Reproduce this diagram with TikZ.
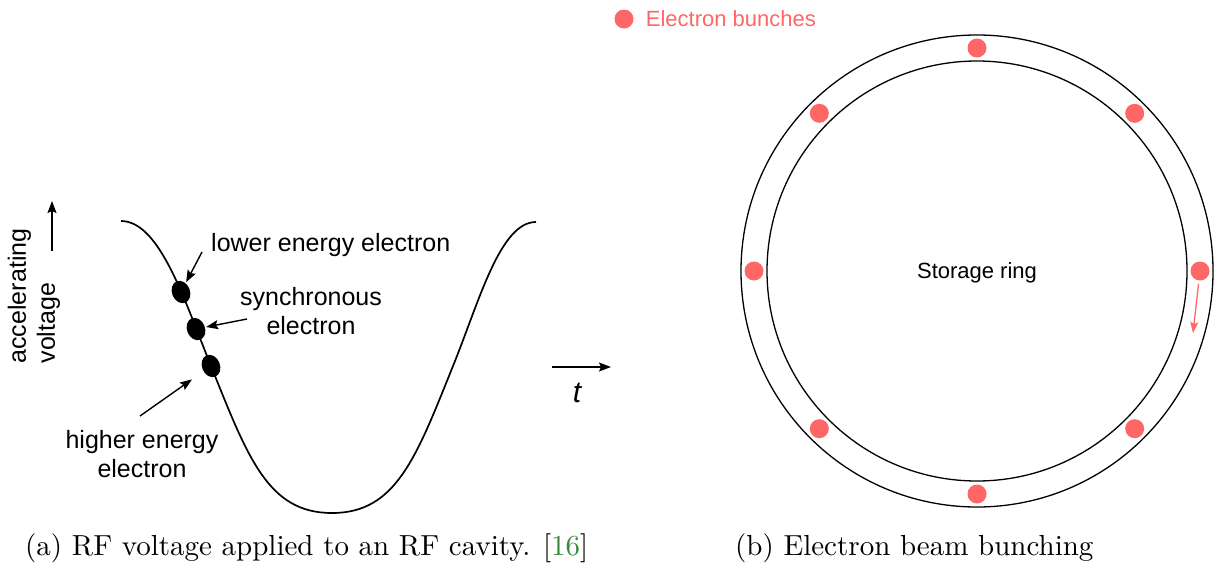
\documentclass[tikz,border=0pt]{standalone}
\usepackage{fontspec}
\newfontfamily\arialfont{Liberation Sans}
\newfontfamily\capfont{lmroman10-regular.otf}
\usepackage{tikz}
\usetikzlibrary{arrows.meta, positioning, shapes.geometric}
\definecolor{bunchred}{RGB}{255,102,102}
\definecolor{citegreen}{RGB}{56,140,56}
\tikzset{
  sinlbl/.style={font=\arialfont\fontsize{25}{29}\selectfont, align=center, inner sep=0pt},
  ringlbl/.style={font=\arialfont\fontsize{22}{26}\selectfont, inner sep=0pt},
  electron/.style={ellipse, fill=black, minimum width=18pt, minimum height=23pt, inner sep=0pt, rotate=22},
  bunch/.style={circle, fill=bunchred, minimum size=19pt, inner sep=0pt},
  myarrow/.style={-{Stealth[length=12pt, width=9pt, inset=2pt]}, line width=1.4pt},
  redarrow/.style={-{Stealth[length=11pt, width=8pt, inset=2pt]}, line width=1.3pt, bunchred},
  ringline/.style={line width=1.3pt},
  caplbl/.style={font=\capfont\fontsize{29}{34}\selectfont, inner sep=0pt, anchor=base west},
}

\begin{document}
\begin{tikzpicture}[x=1pt, y=-1pt]
  \useasboundingbox (0,0) rectangle (1214,562);

  % (a) rf voltage
  \draw[line width=1.7pt] (121,221) .. controls (160,221) and (185,302) .. (211,366)
      .. controls (248,458) and (268,513) .. (332,513)
      .. controls (396,513) and (416,458) .. (453,366)
      .. controls (479,302) and (500,222) .. (536,222);
  \node[electron] (elow) at (181,292) {};
  \node[electron] (esync) at (196,329) {};
  \node[electron] (ehigh) at (211,366) {};

  \node[sinlbl, anchor=base west] (lowlbl) at (211,251) {lower energy electron};
  \node[sinlbl] (synclbl) at (311,311) {synchronous\\electron};
  \node[sinlbl] (highlbl) at (142,454) {higher energy\\electron};
  \node[sinlbl, align=left, rotate=90] (vlbl) at (34,296) {accelerating\\voltage};
  \node[font=\arialfont\itshape\fontsize{30}{34}\selectfont, inner sep=0pt] (tlbl) at (577,393) {t};

  \coordinate (lowtail) at (202,252);
  \coordinate (synctail) at (247,319);
  \coordinate (hightail) at (140,416);
  \draw[myarrow, shorten >=1pt] (lowtail) -- (elow);
  \draw[myarrow, shorten >=1pt] (synctail) -- (esync);
  \draw[myarrow, shorten >=14pt] (hightail) -- (ehigh);

  \coordinate (vfoot) at (52,251);
  \coordinate (vhead) at (52,201);
  \draw[myarrow] (vfoot) -- (vhead);
  \coordinate (tfoot) at (552,367);
  \coordinate (thead) at (611,367);
  \draw[myarrow] (tfoot) -- (thead);

  % (b) storage ring
  \coordinate (ringc) at (977,271);
  \draw[ringline] (ringc) circle[radius=236pt];
  \draw[ringline] (ringc) circle[radius=210pt];
  \foreach \a in {0,45,...,315}
    \node[bunch] (b\a) at ([shift={(\a:223pt)}]ringc) {};
  \node[ringlbl] (ringname) at (977,273) {Storage ring};
  \coordinate (spin) at (1193,333);
  \draw[redarrow, shorten <=3pt] (b0) -- (spin);

  \node[bunch] (legdot) at (624,19) {};
  \node[ringlbl, text=bunchred, right=12pt of legdot] (leglbl) {Electron bunches};

  % captions
  \node[caplbl] (capa) at (25,555) {(a) RF voltage applied to an RF cavity. [\textcolor{citegreen}{16}]};
  \node[caplbl] (capb) at (735,555) {(b) Electron beam bunching};
\end{tikzpicture}
\end{document}
